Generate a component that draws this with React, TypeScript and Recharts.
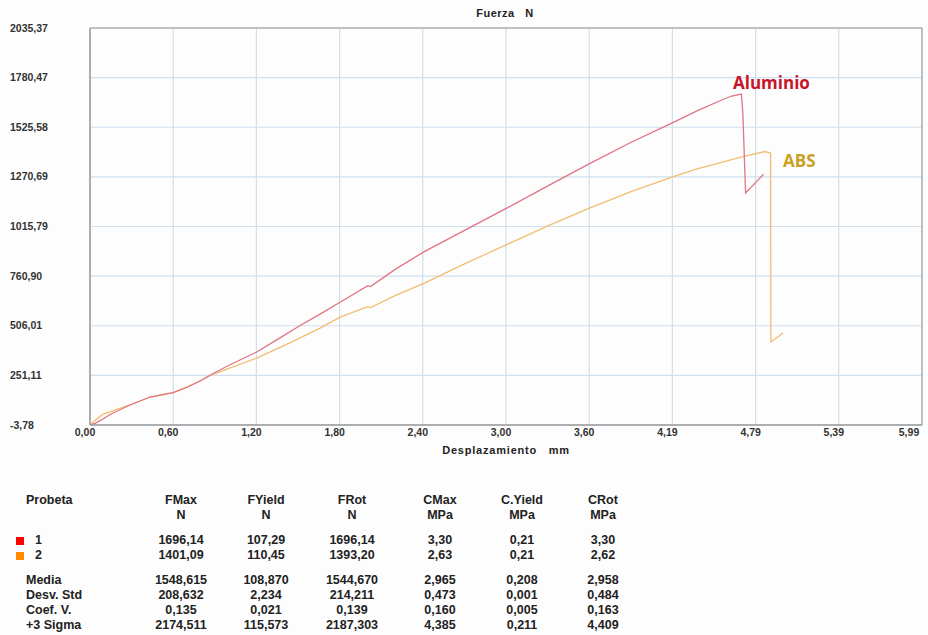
import React from 'react'
import { LineChart, Line, XAxis, YAxis, CartesianGrid, ReferenceLine } from 'recharts'

// ticks de la máquina de ensayo
const yTicks = [-3.78, 251.11, 506.01, 760.9, 1015.79, 1270.69, 1525.58, 1780.47, 2035.37]
const xTicks = [0, 0.599, 1.198, 1.797, 2.396, 2.995, 3.594, 4.193, 4.792, 5.391, 5.99]
const xTickLabels = ['0,00', '0,60', '1,20', '1,80', '2,40', '3,00', '3,60', '4,19', '4,79', '5,39', '5,99']

// probeta 1 - Aluminio (desplazamiento mm, fuerza N)
const aluminio = [
  { x: 0, y: -3.78 },
  { x: 0.036, y: 5 },
  { x: 0.094, y: 27 },
  { x: 0.144, y: 50 },
  { x: 0.288, y: 99 },
  { x: 0.432, y: 140 },
  { x: 0.598, y: 163 },
  { x: 0.7, y: 190 },
  { x: 0.792, y: 222 },
  { x: 0.864, y: 252 },
  { x: 1.0, y: 303 },
  { x: 1.2, y: 371 },
  { x: 1.35, y: 436 },
  { x: 1.51, y: 506 },
  { x: 1.656, y: 566 },
  { x: 1.8, y: 627 },
  { x: 2.0, y: 712 },
  { x: 2.02, y: 707 },
  { x: 2.2, y: 797 },
  { x: 2.4, y: 884 },
  { x: 2.7, y: 997 },
  { x: 3.0, y: 1110 },
  { x: 3.3, y: 1226 },
  { x: 3.6, y: 1340 },
  { x: 3.9, y: 1450 },
  { x: 4.2, y: 1551 },
  { x: 4.37, y: 1610 },
  { x: 4.54, y: 1663 },
  { x: 4.62, y: 1686 },
  { x: 4.69, y: 1696 },
  { x: 4.7, y: 1600 },
  { x: 4.72, y: 1188 },
  { x: 4.85, y: 1285 },
]

// probeta 2 - ABS
const abs = [
  { x: 0, y: -3.78 },
  { x: 0.036, y: 20 },
  { x: 0.094, y: 52 },
  { x: 0.288, y: 99 },
  { x: 0.432, y: 140 },
  { x: 0.598, y: 163 },
  { x: 0.7, y: 192 },
  { x: 0.792, y: 222 },
  { x: 0.864, y: 250 },
  { x: 1.0, y: 287 },
  { x: 1.2, y: 340 },
  { x: 1.45, y: 422 },
  { x: 1.656, y: 494 },
  { x: 1.8, y: 550 },
  { x: 2.0, y: 604 },
  { x: 2.02, y: 599 },
  { x: 2.2, y: 662 },
  { x: 2.4, y: 722 },
  { x: 2.7, y: 825 },
  { x: 3.0, y: 923 },
  { x: 3.3, y: 1020 },
  { x: 3.6, y: 1111 },
  { x: 3.9, y: 1196 },
  { x: 4.2, y: 1272 },
  { x: 4.37, y: 1312 },
  { x: 4.54, y: 1344 },
  { x: 4.7, y: 1375 },
  { x: 4.86, y: 1401 },
  { x: 4.875, y: 1398 },
  { x: 4.9, y: 1393 },
  { x: 4.902, y: 423 },
  { x: 4.99, y: 469 },
]

const headers = ['FMax', 'FYield', 'FRot', 'CMax', 'C.Yield', 'CRot']
const units = ['N', 'N', 'N', 'MPa', 'MPa', 'MPa']
const probetas = ['1', '2']
const probetaColors = ['#ff0000', '#ff8a00']
const probetaValues = [
  ['1696,14', '107,29', '1696,14', '3,30', '0,21', '3,30'],
  ['1401,09', '110,45', '1393,20', '2,63', '0,21', '2,62'],
]
const statLabels = ['Media', 'Desv. Std', 'Coef. V.', '+3 Sigma']
const statValues = [
  ['1548,615', '108,870', '1544,670', '2,965', '0,208', '2,958'],
  ['208,632', '2,234', '214,211', '0,473', '0,001', '0,484'],
  ['0,135', '0,021', '0,139', '0,160', '0,005', '0,163'],
  ['2174,511', '115,573', '2187,303', '4,385', '0,211', '4,409'],
]
const colCenters = [181, 266, 352, 440, 522, 603]

const font = '"Liberation Sans", Arial, sans-serif'
const fmt = (v: number) => v.toFixed(2).replace('.', ',')

const YTick = (props: any) => {
  const { y, payload } = props
  return (
    <text x={10} y={y} dy={3.5} fontSize={10.5} fontWeight="bold" fill="#333" fontFamily={font}>
      {fmt(payload.value)}
    </text>
  )
}

const XTick = (props: any) => {
  const { x, payload } = props
  const i = xTicks.indexOf(payload.value)
  return (
    <text x={x - 5} y={432} dy={3.5} textAnchor="middle" fontSize={10.5} fontWeight="bold" fill="#333" fontFamily={font}>
      {xTickLabels[i]}
    </text>
  )
}

const txt: React.CSSProperties = {
  position: 'absolute',
  fontFamily: font,
  fontWeight: 'bold',
  color: '#222',
  whiteSpace: 'pre',
  lineHeight: '1',
}

export default function App() {
  const cell = (s: string, cx: number, cy: number, key: string) => (
    <div key={key} style={{ ...txt, fontSize: 12.5, left: cx - 50, width: 100, textAlign: 'center', top: cy - 7 }}>
      {s}
    </div>
  )
  return (
    <div style={{ position: 'relative', width: 928, height: 635, background: '#fdfdfd', overflow: 'hidden' }}>
      <style>{'body{margin:0}'}</style>
      <LineChart width={928} height={470} margin={{ top: 28, right: 6, left: 0, bottom: 0 }}>
        <CartesianGrid stroke="#cfe0ee" strokeWidth={1.2} />
        <XAxis
          dataKey="x"
          type="number"
          domain={[0, 5.99]}
          ticks={xTicks}
          tick={<XTick />}
          tickLine={false}
          axisLine={{ stroke: '#999', strokeWidth: 1.5 }}
          height={45}
          allowDataOverflow
        />
        <YAxis
          type="number"
          domain={[-3.78, 2035.37]}
          ticks={yTicks}
          tick={<YTick />}
          tickLine={false}
          axisLine={{ stroke: '#999', strokeWidth: 1.5 }}
          width={90}
          allowDataOverflow
        />
        <ReferenceLine y={2035.37} stroke="#b0b0b0" strokeWidth={1.5} />
        <ReferenceLine x={5.99} stroke="#b0b0b0" strokeWidth={1.5} />
        <Line data={abs} dataKey="y" type="linear" stroke="#f2bd72" strokeWidth={1.3} dot={false} isAnimationActive={false} />
        <Line data={aluminio} dataKey="y" type="linear" stroke="#e07482" strokeWidth={1.3} dot={false} isAnimationActive={false} />
      </LineChart>

      <div style={{ ...txt, fontSize: 11, letterSpacing: 0.5, left: 455, width: 100, textAlign: 'center', top: 8 }}>{'Fuerza   N'}</div>
      <div style={{ ...txt, fontSize: 11, letterSpacing: 0.8, left: 406, width: 200, textAlign: 'center', top: 445 }}>{'Desplazamiento   mm'}</div>

      <div style={{ ...txt, fontFamily: '"Open Sans", sans-serif', fontSize: 17, color: '#c8142a', left: 733, top: 74 }}>Aluminio</div>
      <div style={{ ...txt, fontFamily: '"Open Sans", sans-serif', fontSize: 17, color: '#c9a020', left: 783, top: 152 }}>ABS</div>

      <div style={{ ...txt, fontSize: 12.5, left: 26, top: 494 }}>Probeta</div>
      {headers.map((h, i) => cell(h, colCenters[i], 501, 'h' + i))}
      {units.map((u, i) => cell(u, colCenters[i], 516, 'u' + i))}

      {probetas.map((p, r) => (
        <React.Fragment key={'p' + r}>
          <div style={{ position: 'absolute', left: 16, top: 537 + r * 15, width: 8, height: 8, background: probetaColors[r] }} />
          <div style={{ ...txt, fontSize: 12.5, left: 35, top: 534 + r * 15 }}>{p}</div>
          {probetaValues[r].map((v, i) => cell(v, colCenters[i], 541 + r * 15, 'pv' + r + i))}
        </React.Fragment>
      ))}

      {statLabels.map((s, r) => (
        <React.Fragment key={'s' + r}>
          <div style={{ ...txt, fontSize: 12.5, left: 26, top: 574 + r * 15 }}>{s}</div>
          {statValues[r].map((v, i) => cell(v, colCenters[i], 581 + r * 15, 'sv' + r + i))}
        </React.Fragment>
      ))}
    </div>
  )
}
